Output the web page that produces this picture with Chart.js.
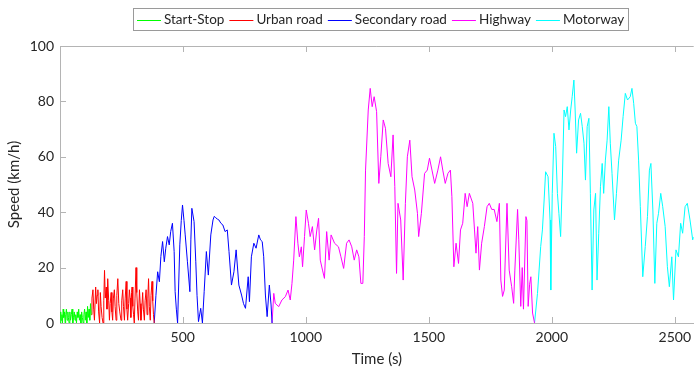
<!DOCTYPE html>
<html>
<head>
<meta charset="utf-8">
<script src="https://cdn.jsdelivr.net/npm/chart.js@4.4.1/dist/chart.umd.min.js"></script>
<style>
  html, body { margin: 0; padding: 0; background: #ffffff; }
  #wrap { position: relative; width: 697px; height: 369px; overflow: hidden; }
</style>
</head>
<body>
<div id="wrap">
  <canvas id="chart" width="697" height="369"></canvas>
</div>
<script>
// Driving segments of the speed profile
const segmentNames = ['Start-Stop', 'Urban road', 'Secondary road', 'Highway', 'Motorway'];
const segmentColors = ['#00ff00', '#ff0000', '#0000ff', '#ff00ff', '#00ffff'];

// Axis ticks
const timeTicks = [500, 1000, 1500, 2000, 2500];
const speedTicks = [0, 20, 40, 60, 80, 100];

// Start-Stop: time (s) and speed (km/h)
const startStopTime = [1,4,6,9,11,14,16,19,22,24,27,30,33,35,38,41,44,47,50,53,56,59,62,65,68,71,74,77,80,83,86,89,92,95,98,101,104,107,110,113,116,119,122,125,128];
const startStopSpeed = [0,4,1,3,0,5,2,4,0,3,5,1,4,2,0,4,1,3,5,0,2,4,1,3,0,4,2,5,1,3,0,4,2,0,3,5,1,4,0,6,2,5,1,7,3];

// Urban road
const urbanTime = [128,131,135,138,141,146,149,152,155,158,162,165,168,172,176,179,182,185,189,192,195,199,202,205,209,212,215,218,222,225,229,232,236,240,244,249,252,256,259,263,266,270,273,276,280,283,286,289,292,294,297,300,303,306,310,313,317,320,324,327,330,334,337,340,344,347,351,355,358,361,364,368,371,375,378,381,384];
const urbanSpeed = [3,9,12,5,1,13,7,10,12,4,0,11,6,2,0,8,19,9,13,5,16,8,1,7,11,4,1,9,12,6,1,10,16,7,4,1,8,12,6,1,9,15,5,1,7,12,9,2,11,13,6,3,0,9,20,11,4,1,12,7,1,6,11,5,1,8,12,3,9,16,6,1,10,15,8,3,0];

// Secondary road
const secondaryTime = [384,391,398,405,411,418,425,431,438,445,451,458,465,469,474,479,488,494,499,505,510,519,529,533,537,546,553,558,564,573,580,587,596,604,614,623,628,634,641,647,655,663,672,681,688,698,708,717,728,739,747,755,766,771,779,789,798,809,816,823,829,836,843,852,859,863];
const secondarySpeed = [0,10,18.5,14.9,24,29.4,22.1,27,31.2,28.2,33,36,25.8,11.3,5,0,28.2,37,42.6,37,31.8,22.1,11.3,30,41.4,36.6,22.1,10,0.5,5.3,0,11.3,25.8,17.3,31.8,37.2,38.5,38,37.5,37.2,36,35.4,33,33.6,25.8,13.7,18.5,26.4,13.7,10.1,7,5.3,16.7,7.7,23.9,28.8,27,31.8,30,29.4,23.9,10.1,2.3,13.7,6.5,0];

// Highway
const highwayTime = [863,870,876,890,903,917,928,937,944,951,960,968,974,982,987,995,1002,1011,1018,1027,1036,1045,1052,1059,1068,1076,1085,1095,1103,1117,1133,1143,1154,1166,1176,1187,1197,1207,1216,1224,1232,1238,1243,1254,1262,1270,1278,1288,1297,1305,1315,1324,1335,1346,1355,1362,1369,1375,1386,1396,1405,1413,1423,1432,1443,1454,1459,1470,1483,1494,1503,1513,1524,1537,1548,1557,1567,1578,1588,1594,1602,1611,1621,1629,1638,1648,1656,1665,1679,1686,1692,1699,1706,1715,1726,1737,1746,1756,1766,1777,1787,1793,1800,1807,1818,1827,1837,1845,1850,1861,1866,1874,1880,1885,1895,1899,1904,1910,1915,1922,1930];
const highwaySpeed = [0,10.7,7.1,5.9,8.3,9.5,11.9,8.3,14.3,22.7,38.4,28.8,23.9,27.5,20.3,31.2,40.8,36,31.2,34.8,26.4,33.6,37.8,22.7,19.1,16.1,33,22.7,31.8,28.8,27.5,23.9,19.7,28.8,30,27.5,22.7,26.4,23.9,14.3,14.3,31.2,55.2,76.9,84.7,78.1,81.7,76.3,50.4,60,73.3,70.3,57.6,52.8,67.9,49.2,17.9,43.2,37.2,15.5,43.2,60,66,52.8,48,39.6,31.2,39.6,54,55.2,59.5,55.2,50.4,55.2,60,55.2,50.4,54,55.2,45.6,20.3,28.8,21.5,33.6,36,46.8,42,46.8,43.2,33.6,25.2,34.8,19.1,28.8,34.8,42,43.2,41,41,36.6,43.2,15.5,9.6,11.9,43.2,19.1,13.1,7.1,19.1,41,30,6,20,5,38.4,37,6,14,16.7,3.6,0];

// Motorway
const motorwayTime = [1930,1942,1955,1962,1969,1975,1985,1993,1996,2002,2009,2016,2023,2029,2036,2043,2050,2056,2063,2070,2077,2083,2090,2095,2101,2109,2117,2124,2131,2137,2144,2151,2157,2164,2171,2178,2184,2191,2198,2205,2211,2218,2225,2232,2238,2245,2255,2263,2272,2282,2290,2299,2308,2319,2326,2333,2340,2346,2353,2360,2370,2380,2389,2397,2403,2411,2419,2427,2434,2443,2451,2461,2470,2478,2488,2495,2505,2515,2524,2532,2542,2551,2562,2573,2577];
const motorwaySpeed = [0,10.7,27.6,33.6,44.4,54.6,52.8,37.2,11.9,46.8,68.5,63.7,46.8,39.6,31.2,51.6,76.9,74.5,78.1,69.7,76.9,81.7,87.7,76.9,61.3,73.3,75.7,70.9,64.9,51.6,70.9,73.9,46.8,11.9,40.8,46.8,15.5,32.4,49.2,57.6,46.8,58.8,66,78.1,64.9,54,37.2,46.8,58.8,66,74.5,82.9,80.5,81.7,84.7,79.3,72.1,70.9,58.8,42,16.7,27.6,38.4,55.2,57.6,40.8,14.3,36,39.6,46.8,42,34.8,20.3,13.1,23.9,8.3,26.4,23.9,36,32.4,42,43.2,37.2,30,31];

const segmentTimes = [startStopTime, urbanTime, secondaryTime, highwayTime, motorwayTime];
const segmentSpeeds = [startStopSpeed, urbanSpeed, secondarySpeed, highwaySpeed, motorwaySpeed];

const axisColor = '#b4b4b4';
const legendBorder = '#9a9a9a';
const textColor = '#262626';
const fontFamily = 'Lato, "Open Sans", sans-serif';

// Frame: top border and inward tick marks
const framePlugin = {
  id: 'frame',
  afterDatasetsDraw(chart) {
    const { ctx, chartArea, scales } = chart;
    const len = 6;
    ctx.save();
    ctx.strokeStyle = axisColor;
    ctx.lineWidth = 1;
    ctx.beginPath();
    ctx.moveTo(chartArea.left, chartArea.top + 0.5);
    ctx.lineTo(chartArea.right, chartArea.top + 0.5);
    timeTicks.forEach(v => {
      const x = Math.round(scales.x.getPixelForValue(v)) + 0.5;
      ctx.moveTo(x, chartArea.bottom);
      ctx.lineTo(x, chartArea.bottom - len);
      ctx.moveTo(x, chartArea.top);
      ctx.lineTo(x, chartArea.top + len);
    });
    speedTicks.forEach(v => {
      const y = Math.round(scales.y.getPixelForValue(v)) + 0.5;
      ctx.moveTo(chartArea.left, y);
      ctx.lineTo(chartArea.left + len, y);
    });
    ctx.stroke();
    ctx.restore();
  }
};

// Boxed single-row legend centred over the plot area
const boxedLegend = {
  id: 'boxedLegend',
  afterDraw(chart) {
    const { ctx, chartArea } = chart;
    const sample = 24, gapText = 3, gapItem = 5, pad = 4;
    const top = 8, height = 22;
    ctx.save();
    ctx.font = '13.5px ' + fontFamily;
    const widths = chart.data.datasets.map(d => ctx.measureText(d.label).width);
    const total = widths.reduce((s, w) => s + sample + gapText + w, 0) + gapItem * (widths.length - 1) + pad * 2;
    const left = Math.round((chartArea.left + chartArea.right) / 2 - total / 2 + 4);
    ctx.strokeStyle = legendBorder;
    ctx.lineWidth = 1;
    ctx.strokeRect(left + 0.5, top + 0.5, Math.round(total), height);
    const midY = top + height / 2 + 0.5;
    let x = left + pad;
    chart.data.datasets.forEach((d, i) => {
      ctx.strokeStyle = d.borderColor;
      ctx.beginPath();
      ctx.moveTo(x, Math.round(midY) + 0.5);
      ctx.lineTo(x + sample, Math.round(midY) + 0.5);
      ctx.stroke();
      x += sample + gapText;
      ctx.fillStyle = textColor;
      ctx.textBaseline = 'middle';
      ctx.textAlign = 'left';
      ctx.fillText(d.label, x, midY);
      x += widths[i] + gapItem;
    });
    ctx.restore();
  }
};

new Chart(document.getElementById('chart'), {
  type: 'line',
  data: {
    datasets: segmentNames.map((name, i) => ({
      label: name,
      data: segmentTimes[i].map((t, k) => ({ x: t, y: segmentSpeeds[i][k] })),
      borderColor: segmentColors[i],
      backgroundColor: segmentColors[i],
      borderWidth: 1,
      pointRadius: 0,
      tension: 0,
      fill: false
    }))
  },
  options: {
    responsive: false,
    animation: false,
    events: [],
    layout: { padding: { top: 46, right: 0, left: 0, bottom: 0 } },
    plugins: {
      legend: { display: false },
      tooltip: { enabled: false }
    },
    scales: {
      x: {
        type: 'linear',
        min: 1,
        max: 2577,
        afterBuildTicks: axis => { axis.ticks = timeTicks.map(v => ({ value: v })); },
        afterFit: axis => { axis.height = 46; },
        grid: { display: false, drawTicks: false },
        border: { display: true, color: axisColor, width: 1 },
        ticks: { color: textColor, font: { family: fontFamily, size: 14 }, padding: 6, maxRotation: 0, callback: v => String(v) },
        title: { display: true, text: 'Time (s)', color: textColor, font: { family: fontFamily, size: 15 }, padding: { top: 0, bottom: 1 } }
      },
      y: {
        min: 0,
        max: 100,
        afterBuildTicks: axis => { axis.ticks = speedTicks.map(v => ({ value: v })); },
        afterFit: axis => { axis.width = 60; },
        grid: { display: false, drawTicks: false },
        border: { display: true, color: axisColor, width: 1 },
        ticks: { color: textColor, font: { family: fontFamily, size: 14 }, padding: 6, callback: v => String(v) },
        title: { display: true, text: 'Speed (km/h)', color: textColor, font: { family: fontFamily, size: 15 }, padding: { top: 5, bottom: 0 } }
      }
    }
  },
  plugins: [framePlugin, boxedLegend]
});
</script>
</body>
</html>
